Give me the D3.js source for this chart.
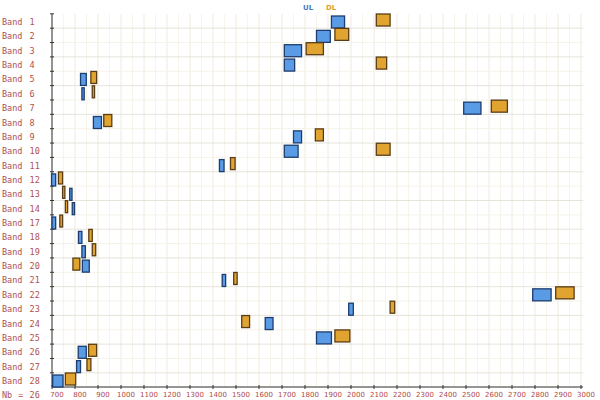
<!DOCTYPE html>
<html><head><meta charset="utf-8">
<script src="https://cdn.jsdelivr.net/npm/d3@7"></script>
<style>body{margin:0;background:#fff}</style></head>
<body><svg id="c" width="600" height="400"></svg>
<script>
const bands = ["Band 1","Band 2","Band 3","Band 4","Band 5","Band 6","Band 7","Band 8","Band 9","Band 10","Band 11","Band 12","Band 13","Band 14","Band 17","Band 18","Band 19","Band 20","Band 21","Band 22","Band 23","Band 24","Band 25","Band 26","Band 27","Band 28"];
const ulStart = [1915,1850,1710,1710,824,830,2490,880,1750,1710,1428,698,777,788,700,815,830,832,1440,2790,1990,1627,1850,814,807,703];
const ulEnd   = [1972,1910,1785,1755,849,840,2565,915,1785,1770,1448,716,787,798,716,830,845,862,1455,2870,2010,1661,1915,849,824,748];
const dlStart = [2110,1930,1805,2110,869,875,2610,925,1845,2110,1476,728,746,758,734,860,875,791,1490,2890,2170,1525,1930,859,852,758];
const dlEnd   = [2170,1990,1880,2155,894,885,2680,960,1880,2170,1496,746,756,768,746,875,890,821,1505,2970,2190,1559,1995,894,869,803];
const xTicks = d3.range(700,3001,100);

const svg = d3.select("#c");
const x = d3.scaleLinear().domain([700,3000]).range([52,581]);
const y = d3.scalePoint().domain(bands).range([21,380]);
const step = y.step();
const yTop = 14, yBot = 387;

svg.append("g").selectAll("line").data(d3.range(700,3001,50)).join("line")
  .attr("x1",d=>x(d)).attr("x2",d=>x(d)).attr("y1",yTop).attr("y2",yBot)
  .attr("stroke",d=>d%100===0?"#efeadb":"#f7f4ea").attr("stroke-width",1);
svg.append("g").selectAll("line").data(bands.filter((d,i)=>i%2===0)).join("line")
  .attr("x1",52).attr("x2",583).attr("y1",d=>y(d)+step/2).attr("y2",d=>y(d)+step/2)
  .attr("stroke","#e6e3da").attr("stroke-width",1);
svg.append("g").selectAll("line").data(bands.filter((d,i)=>i%2===1)).join("line")
  .attr("x1",52).attr("x2",583).attr("y1",d=>y(d)+step/2).attr("y2",d=>y(d)+step/2)
  .attr("stroke","#f5f2e8").attr("stroke-width",1);

svg.append("line").attr("x1",52).attr("x2",52).attr("y1",yTop).attr("y2",yBot).attr("stroke","#333");
svg.append("line").attr("x1",52).attr("x2",583).attr("y1",yBot).attr("y2",yBot).attr("stroke","#333");
svg.append("g").selectAll("line").data(bands).join("line")
  .attr("x1",50).attr("x2",54).attr("y1",d=>y(d)-step/2).attr("y2",d=>y(d)-step/2).attr("stroke","#333");
svg.append("g").selectAll("line").data(xTicks).join("line")
  .attr("x1",d=>x(d)).attr("x2",d=>x(d)).attr("y1",yBot-2).attr("y2",yBot+2).attr("stroke","#333");
svg.append("g").selectAll("text").data(xTicks).join("text")
  .attr("x",d=>x(d)+5).attr("y",yBot+10).attr("text-anchor","middle")
  .attr("font-family","DejaVu Sans").attr("font-size",7).attr("fill","#b04848").text(d=>d);
svg.append("g").selectAll("text").data(bands).join("text")
  .attr("x",2).attr("y",d=>y(d)+4).attr("font-family","DejaVu Sans Mono").attr("font-size",8.5)
  .attr("word-spacing",2).attr("fill","#b05050").text(d=>d);
svg.append("text").attr("x",2).attr("y",398).attr("font-family","DejaVu Sans Mono").attr("font-size",8.5)
  .attr("word-spacing",1).attr("fill","#b05050").text("Nb = 26");

const h = 12;
const g = svg.append("g");
g.selectAll("rect.ul").data(bands).join("rect").attr("class","ul")
  .attr("x",(d,i)=>x(ulStart[i])).attr("width",(d,i)=>Math.max(2,x(ulEnd[i])-x(ulStart[i])))
  .attr("y",d=>y(d)-h/2+1).attr("height",h)
  .attr("fill","#5a9be6").attr("stroke","#1c3d6e").attr("stroke-width",1.3);
g.selectAll("rect.dl").data(bands).join("rect").attr("class","dl")
  .attr("x",(d,i)=>x(dlStart[i])).attr("width",(d,i)=>Math.max(2,x(dlEnd[i])-x(dlStart[i])))
  .attr("y",d=>y(d)-h/2-1).attr("height",h)
  .attr("fill","#e2a430").attr("stroke","#5a3c14").attr("stroke-width",1.3);

svg.append("text").attr("x",303).attr("y",10).attr("font-family","DejaVu Sans").attr("font-size",7)
  .attr("font-weight","bold").attr("fill","#4a7ac0").text("UL");
svg.append("text").attr("x",326).attr("y",10).attr("font-family","DejaVu Sans").attr("font-size",7)
  .attr("font-weight","bold").attr("fill","#e0a030").text("DL");
</script></body></html>
